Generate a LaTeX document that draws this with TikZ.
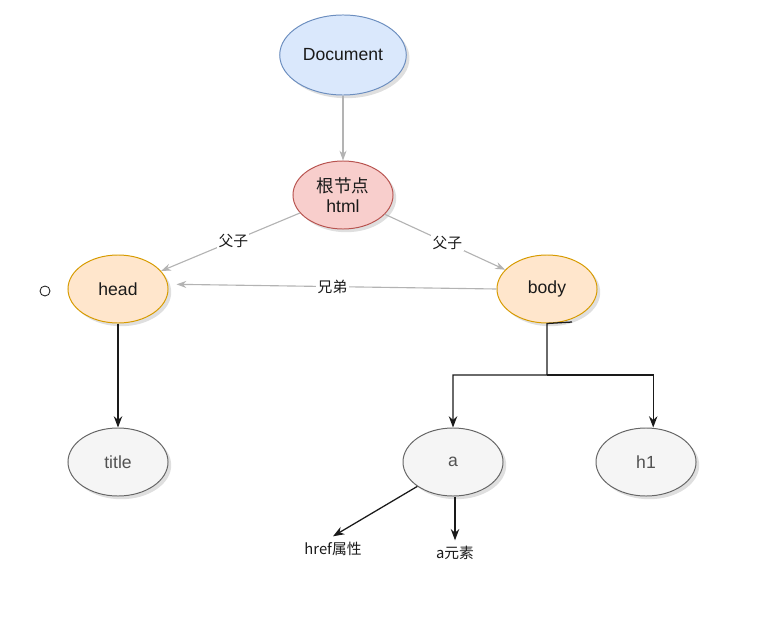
\documentclass[tikz,border=0pt]{standalone}
\usepackage{fontspec}
\setmainfont{Liberation Sans}
\newfontfamily\cjk{Noto Sans CJK SC}
\usepackage{tikz}
\usetikzlibrary{arrows.meta,positioning,shapes.geometric,shadows}
\definecolor{ink}{HTML}{1A1A1A}
\definecolor{docfill}{HTML}{DAE8FC}
\definecolor{docline}{HTML}{6C8EBF}
\definecolor{rootfill}{HTML}{F8CECC}
\definecolor{rootline}{HTML}{B85450}
\definecolor{kidfill}{HTML}{FFE6CC}
\definecolor{kidline}{HTML}{D79B00}
\definecolor{leaffill}{HTML}{F5F5F5}
\definecolor{leafline}{HTML}{666666}
\definecolor{wire}{HTML}{B3B3B3}

\tikzset{
  dom/.style={ellipse, line width=0.7pt, minimum width=2.5cm, minimum height=1.7cm,
    text=ink, font=\fontsize{12.5}{14.5}\selectfont,
    drop shadow={opacity=0.25, shadow xshift=0.08cm, shadow yshift=-0.08cm}},
  docnode/.style={dom, fill=docfill, draw=docline, minimum width=3.05cm, minimum height=2cm},
  rootnode/.style={dom, fill=rootfill, draw=rootline},
  kidnode/.style={dom, fill=kidfill, draw=kidline},
  leafnode/.style={dom, fill=leaffill, draw=leafline, text=leafline!80!black},
  tag/.style={font=\cjk\fontsize{10.5}{12}\selectfont, text=ink, inner sep=4pt},
  soft/.style={draw=wire, line width=0.8pt, -{Stealth[length=7pt,width=5pt]}},
  hard/.style={draw=ink, line width=0.9pt, -{Stealth[length=8pt,width=6pt]}}
}

\begin{document}
\begin{tikzpicture}[x=0.025cm, y=-0.025cm]
  \useasboundingbox (0,0) rectangle (760,617);

  \node[docnode] (doc) at (343,55) {Document};
  \node[rootnode, align=center] (html) at (343,195) {{\cjk 根节点}\\html};
  \node[kidnode] (head) at (118,289) {head};
  \node[kidnode] (body) at (547,289) {body};
  \node[leafnode] (title) at (118,462) {title};
  \node[leafnode] (a) at (453,462) {a};
  \node[leafnode] (h1) at (646,462) {h1};
  \node[circle, draw=ink, line width=0.6pt, minimum size=0.25cm, inner sep=0pt] (dot) at (45,291) {};

  \node[tag] (href) at (333,549) {href属性};
  \node[tag] (aelem) at (455,553) {a元素};

  % upper links
  \draw[soft] (doc) -- (html);
  \draw[soft] (html) -- node[tag, fill=white, inner sep=1pt, pos=0.48] {父子} (head);
  \draw[soft] (html) -- node[tag, fill=white, inner sep=1pt, pos=0.52] {父子} (body);
  \draw[soft, shorten >=0.2cm] (body.west) -- node[tag, fill=white, inner sep=1pt, pos=0.5] {兄弟} ([yshift=0.12cm]head.east);

  % tree below
  \coordinate (stub) at (572,322);
  \coordinate (fork) at (547,375);
  \draw[hard] (head) -- (title);
  \draw[hard] (stub) -- (body.south) -- (fork) -| (a.north);
  \draw[hard] (fork) -| ([xshift=0.18cm]h1.north);
  \draw[hard] (a.south west) -- (href.north);
  \draw[hard] (aelem.north |- a.south) -- (aelem.north);
\end{tikzpicture}
\end{document}
